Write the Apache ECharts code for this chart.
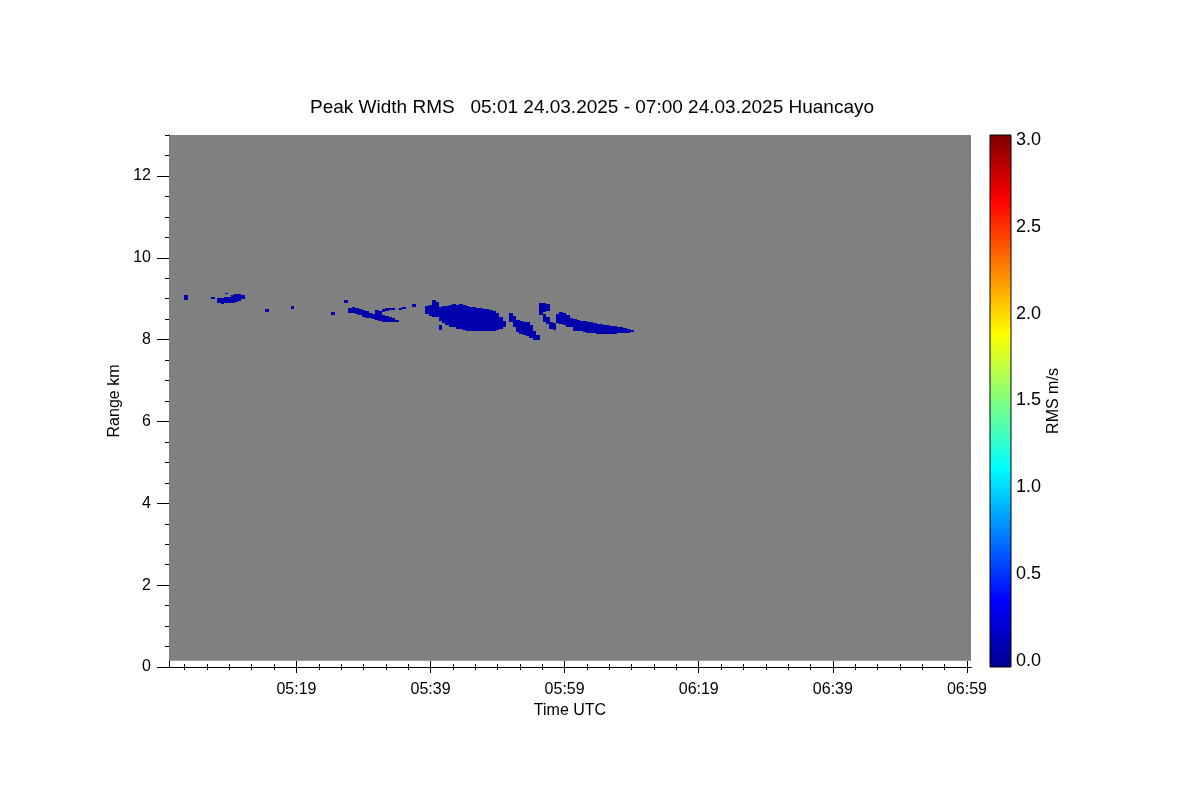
<!DOCTYPE html>
<html><head><meta charset="utf-8">
<script src="https://cdn.jsdelivr.net/npm/echarts@6/dist/echarts.min.js"></script>
<style>html,body{margin:0;padding:0;background:#fff}#c{width:1200px;height:800px}</style>
</head><body><div id="c"></div>
<script>
// ---- data (time = minutes after 05:00 UTC, range = km, rms = m/s) ----
const titleText = 'Peak Width RMS   05:01 24.03.2025 - 07:00 24.03.2025 Huancayo';
const xTickLabels = ['05:19', '05:39', '05:59', '06:19', '06:39', '06:59'];
const yTickLabels = ['0', '2', '4', '6', '8', '10', '12'];
const cbTickLabels = ['0.0', '0.5', '1.0', '1.5', '2.0', '2.5', '3.0'];
const timeStartMin = 0;      // 05:00
const timeEndMin = 119.6;    // ~06:59:36
const rangeMaxKm = 13;
const firstGateKm = 0.15;
const rmsMin = 0, rmsMax = 3;

const cellTime = [
  2.5, 6.6, 7.5, 8.0, 8.5, 8.6, 9.0, 9.5, 10.0, 10.5, 11.0, 14.6, 18.4, 24.5, 26.4,
  27.0, 27.5, 28.0, 28.5, 29.0, 29.5, 30.0, 30.5, 31.0, 31.5, 32.0, 32.0, 32.5, 32.5, 33.0, 33.0, 33.5, 33.5, 34.0, 34.5, 35.0, 36.5,
  38.5, 39.0, 39.5, 40.0, 40.5, 40.5, 41.0, 41.5, 42.0, 42.5, 43.0, 43.5, 44.0, 44.5, 45.0, 45.5, 46.0, 46.5, 47.0, 47.5, 48.0, 48.5, 49.0, 49.5, 50.0,
  51.0, 51.5, 52.0, 52.5, 53.0, 53.5, 54.0, 54.5, 55.0,
  55.5, 56.0, 56.0, 56.5, 56.5, 57.0, 57.5,
  58.0, 58.5, 59.0, 59.5, 60.0, 60.5, 61.0, 61.5, 62.0, 62.5, 63.0, 63.5, 64.0, 64.5, 65.0, 65.5, 66.0, 66.5, 67.0, 67.5, 68.0, 68.5, 69.0
];
const cellLowKm = [
  8.98, 9.00, 8.89, 8.88, 8.89, 9.12, 8.90, 8.90, 8.92, 8.95, 9.00, 8.68, 8.76, 8.60, 8.89,
  8.66, 8.64, 8.62, 8.60, 8.55, 8.52, 8.52, 8.50, 8.48, 8.45, 8.42, 8.68, 8.42, 8.70, 8.42, 8.72, 8.43, 8.73, 8.42, 8.72, 8.76, 8.79,
  8.62, 8.58, 8.56, 8.55, 8.45, 8.24, 8.40, 8.36, 8.32, 8.30, 8.27, 8.25, 8.23, 8.22, 8.21, 8.20, 8.20, 8.20, 8.20, 8.20, 8.20, 8.22, 8.23, 8.25, 8.30,
  8.42, 8.30, 8.18, 8.14, 8.12, 8.10, 8.05, 8.00, 7.99,
  8.60, 8.68, 8.44, 8.70, 8.38, 8.25, 8.24,
  8.40, 8.38, 8.36, 8.32, 8.30, 8.22, 8.20, 8.20, 8.18, 8.16, 8.15, 8.15, 8.14, 8.14, 8.13, 8.13, 8.14, 8.14, 8.15, 8.15, 8.16, 8.17, 8.18
];
const cellHighKm = [
  9.10, 9.04, 9.02, 9.02, 9.03, 9.15, 9.03, 9.08, 9.11, 9.12, 9.10, 8.76, 8.82, 8.68, 8.97,
  8.78, 8.80, 8.78, 8.76, 8.72, 8.70, 8.66, 8.62, 8.72, 8.70, 8.60, 8.76, 8.58, 8.77, 8.55, 8.77, 8.52, 8.78, 8.48, 8.77, 8.80, 8.87,
  8.82, 8.85, 8.97, 8.92, 8.80, 8.36, 8.82, 8.83, 8.84, 8.86, 8.85, 8.86, 8.84, 8.82, 8.80, 8.80, 8.78, 8.78, 8.76, 8.74, 8.72, 8.70, 8.66, 8.56, 8.45,
  8.64, 8.58, 8.48, 8.45, 8.44, 8.42, 8.36, 8.22, 8.12,
  8.90, 8.90, 8.62, 8.88, 8.55, 8.44, 8.40,
  8.62, 8.68, 8.66, 8.60, 8.52, 8.50, 8.48, 8.46, 8.45, 8.42, 8.42, 8.40, 8.38, 8.38, 8.36, 8.35, 8.34, 8.33, 8.32, 8.30, 8.28, 8.26, 8.24
];
// RMS is uniformly low (~0.1 m/s) across all echoes
const cellRms = cellTime.map(() => 0.1);

// ---- helpers ----
const FONT = 'Liberation Sans, Arial, Helvetica, sans-serif';
const jetStops = [[0, [0, 0, 143]], [0.125, [0, 0, 255]], [0.375, [0, 255, 255]], [0.625, [255, 255, 0]], [0.875, [255, 0, 0]], [1, [128, 0, 0]]];
function jet(f) {
  f = Math.max(0, Math.min(1, f));
  for (let i = 1; i < jetStops.length; i++) {
    if (f <= jetStops[i][0]) {
      const a = jetStops[i - 1], b = jetStops[i];
      const k = (f - a[0]) / (b[0] - a[0]);
      const c = a[1].map((v, j) => Math.round(v + (b[1][j] - v) * k));
      return 'rgb(' + c.join(',') + ')';
    }
  }
  return 'rgb(128,0,0)';
}
const hm = s => { const p = s.split(':'); return (+p[0] - 5) * 60 + (+p[1]); };
const xMajor = xTickLabels.map(hm);
const xMinor = [];
for (let m = xMajor[0] - 20; m <= timeEndMin; m += 20 / 6) {
  const v = Math.round(m * 1000) / 1000;
  if (v >= timeStartMin && v <= timeEndMin && !xMajor.some(t => Math.abs(t - v) < 0.01)) xMinor.push(v);
}
const yMajor = yTickLabels.map(Number);
const yMinor = [];
for (let r = 0; r <= rangeMaxKm; r += 0.5) if (!yMajor.includes(r)) yMinor.push(r);
const cbValues = cbTickLabels.map(Number);
const cbPxPerUnit = 521 / 3;
const cbAxisMin = rmsMin - 6 / cbPxPerUnit, cbAxisMax = rmsMax + 5 / cbPxPerUnit;

const cells = cellTime.map((t, i) => [t, cellLowKm[i], cellHighKm[i], cellRms[i]]);

const lineStyle = { color: '#000', width: 1 };
const lbl = { color: '#000', fontSize: 16, fontFamily: FONT };
const cbLbl = { color: '#000', fontSize: 18, fontFamily: FONT };
function tickAxis(extra) { return Object.assign({ type: 'value', splitLine: { show: false }, axisLine: { show: false }, axisLabel: { show: false } }, extra); }

const chart = echarts.init(document.getElementById('c'), null, { renderer: 'canvas' });
chart.setOption({
  animation: false,
  backgroundColor: '#fff',
  title: { text: titleText, left: 310, top: 98, padding: 0, textStyle: { fontSize: 19, fontWeight: 'normal', color: '#000', fontFamily: FONT } },
  grid: [
    { left: 169, right: 229, top: 135, bottom: 133 },
    { left: 990, width: 21, top: 135, bottom: 133 }
  ],
  xAxis: [
    tickAxis({ gridIndex: 0, position: 'bottom', min: timeStartMin, max: timeEndMin,
      axisLine: { show: true, lineStyle },
      axisTick: { customValues: xMajor, length: 6, lineStyle },
      axisLabel: { show: true, customValues: xMajor, margin: 15, formatter: v => xTickLabels[xMajor.indexOf(v)] || '', ...lbl },
      name: 'Time UTC', nameLocation: 'middle', nameGap: 33, nameTextStyle: lbl }),
    tickAxis({ gridIndex: 0, position: 'bottom', min: timeStartMin, max: timeEndMin, axisTick: { customValues: xMinor, length: 3, lineStyle } }),
    tickAxis({ gridIndex: 0, position: 'top', min: timeStartMin, max: timeEndMin, axisLine: { show: true, lineStyle }, axisTick: { customValues: xMajor, length: 6, lineStyle } }),
    tickAxis({ gridIndex: 0, position: 'top', min: timeStartMin, max: timeEndMin, axisTick: { customValues: xMinor, length: 3, lineStyle } }),
    tickAxis({ gridIndex: 1, min: 0, max: 1, show: false })
  ],
  yAxis: [
    tickAxis({ gridIndex: 0, position: 'left', min: 0, max: rangeMaxKm,
      axisLine: { show: true, lineStyle },
      axisTick: { customValues: yMajor, length: 12, lineStyle },
      axisLabel: { show: true, customValues: yMajor, margin: 18, formatter: v => yTickLabels[yMajor.indexOf(v)] || '', ...lbl },
      name: 'Range km', nameLocation: 'middle', nameGap: 46, nameRotate: 90, nameTextStyle: lbl }),
    tickAxis({ gridIndex: 0, position: 'left', min: 0, max: rangeMaxKm, axisTick: { customValues: yMinor, length: 4, lineStyle } }),
    tickAxis({ gridIndex: 0, position: 'right', min: 0, max: rangeMaxKm, axisLine: { show: true, lineStyle }, axisTick: { customValues: yMajor, length: 9, lineStyle } }),
    tickAxis({ gridIndex: 0, position: 'right', min: 0, max: rangeMaxKm, axisTick: { customValues: yMinor, length: 5, lineStyle } }),
    tickAxis({ gridIndex: 1, position: 'right', min: cbAxisMin, max: cbAxisMax,
      axisTick: { show: false },
      axisLabel: { show: true, customValues: cbValues, margin: 5, formatter: v => cbTickLabels[cbValues.indexOf(v)] || '', ...cbLbl },
      name: 'RMS m/s', nameLocation: 'middle', nameGap: 35, nameRotate: 90, nameTextStyle: lbl })
  ],
  series: [
    { type: 'custom', xAxisIndex: 0, yAxisIndex: 0, silent: true, z: 1,
      data: [[timeStartMin, timeEndMin, firstGateKm, rangeMaxKm]],
      renderItem: (p, api) => {
        const a = api.coord([api.value(0), api.value(3)]), b = api.coord([api.value(1), api.value(2)]);
        return { type: 'rect', shape: { x: a[0], y: a[1], width: b[0] - a[0], height: b[1] - a[1] }, style: { fill: '#808080' } };
      } },
    { type: 'custom', xAxisIndex: 0, yAxisIndex: 0, silent: true, z: 2, clip: true,
      data: cells,
      renderItem: (p, api) => {
        const t = api.value(0), half = 0.27;
        const a = api.coord([t - half, api.value(2)]), b = api.coord([t + half, api.value(1)]);
        const x0 = Math.round(a[0]), x1 = Math.round(b[0]), y0 = Math.round(a[1]), y1 = Math.round(b[1]);
        return { type: 'rect', shape: { x: x0, y: y0, width: Math.max(1, x1 - x0), height: Math.max(1, y1 - y0) }, style: { fill: jet((api.value(3) - rmsMin) / (rmsMax - rmsMin)) } };
      } },
    { type: 'custom', xAxisIndex: 4, yAxisIndex: 4, silent: true, z: 2,
      data: [[0, 1, cbAxisMin, cbAxisMax]],
      renderItem: (p, api) => {
        const a = api.coord([api.value(0), api.value(3)]), b = api.coord([api.value(1), api.value(2)]);
        const colorStops = jetStops.map(s => ({ offset: 1 - s[0], color: 'rgb(' + s[1].join(',') + ')' }));
        colorStops.reverse();
        return { type: 'rect', shape: { x: a[0], y: a[1], width: b[0] - a[0], height: b[1] - a[1] },
          style: { fill: new echarts.graphic.LinearGradient(0, 0, 0, 1, colorStops), stroke: '#000', lineWidth: 1 } };
      } }
  ]
});
</script></body></html>
